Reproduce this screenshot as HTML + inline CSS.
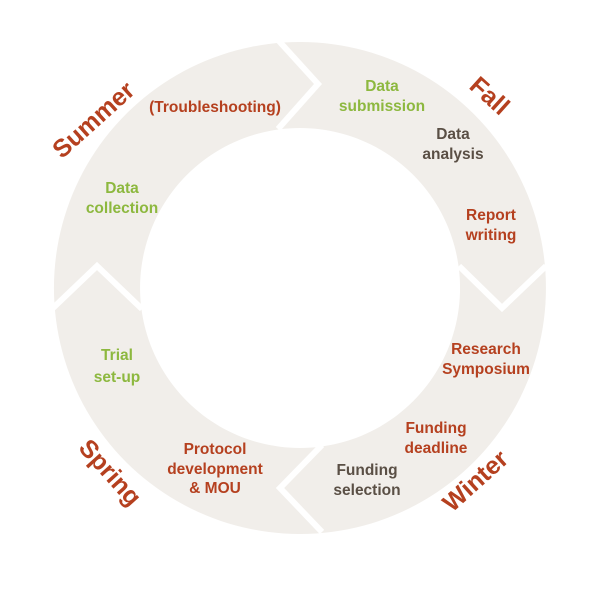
<!DOCTYPE html>
<html><head><style>html,body{margin:0;padding:0;background:#fff}</style></head>
<body>
<svg width="600" height="600" viewBox="0 0 600 600" xmlns="http://www.w3.org/2000/svg">
<path fill="#f1eeea" fill-rule="evenodd" d="M300,42 A246,246 0 1,1 299.9,42 Z M300,128 A160,160 0 1,0 300.1,128 Z"/>
<g fill="none" stroke="#fff" stroke-width="6" stroke-linejoin="miter">
<polyline points="278,40 318,84 278,129"/>
<polyline points="459,266 502,308 546,266"/>
<polyline points="52,309 97,266 142,309"/>
<polyline points="322,445 280,488 322,532"/>
</g>
<g font-family="Liberation Sans, sans-serif" font-size="15.5" font-weight="bold" text-anchor="middle">
<text x="215" y="112" fill="#b5401f">(Troubleshooting)</text>
<text x="382" y="91" fill="#8db83f">Data</text>
<text x="382" y="111" fill="#8db83f">submission</text>
<text x="453" y="139" fill="#5a4f45">Data</text>
<text x="453" y="159" fill="#5a4f45">analysis</text>
<text x="491" y="220" fill="#b5401f">Report</text>
<text x="491" y="240" fill="#b5401f">writing</text>
<text x="122" y="193" fill="#8db83f">Data</text>
<text x="122" y="213" fill="#8db83f">collection</text>
<text x="117" y="360" fill="#8db83f">Trial</text>
<text x="117" y="382" fill="#8db83f">set-up</text>
<text x="486" y="354" fill="#b5401f">Research</text>
<text x="486" y="374" fill="#b5401f">Symposium</text>
<text x="436" y="433" fill="#b5401f">Funding</text>
<text x="436" y="453" fill="#b5401f">deadline</text>
<text x="367" y="475" fill="#5a4f45">Funding</text>
<text x="367" y="495" fill="#5a4f45">selection</text>
<text x="215" y="454" fill="#b5401f">Protocol</text>
<text x="215" y="474" fill="#b5401f">development</text>
<text x="215" y="493" fill="#b5401f">&amp; MOU</text>
</g>
<g font-family="Liberation Sans, sans-serif" font-size="25" font-weight="bold" fill="#b5401f" text-anchor="middle">
<text transform="translate(99,126) rotate(-42)">Summer</text>
<text transform="translate(484,102) rotate(42)">Fall</text>
<text transform="translate(481,487) rotate(-42)">Winter</text>
<text transform="translate(104,478) rotate(48)">Spring</text>
</g>
</svg>
</body></html>
